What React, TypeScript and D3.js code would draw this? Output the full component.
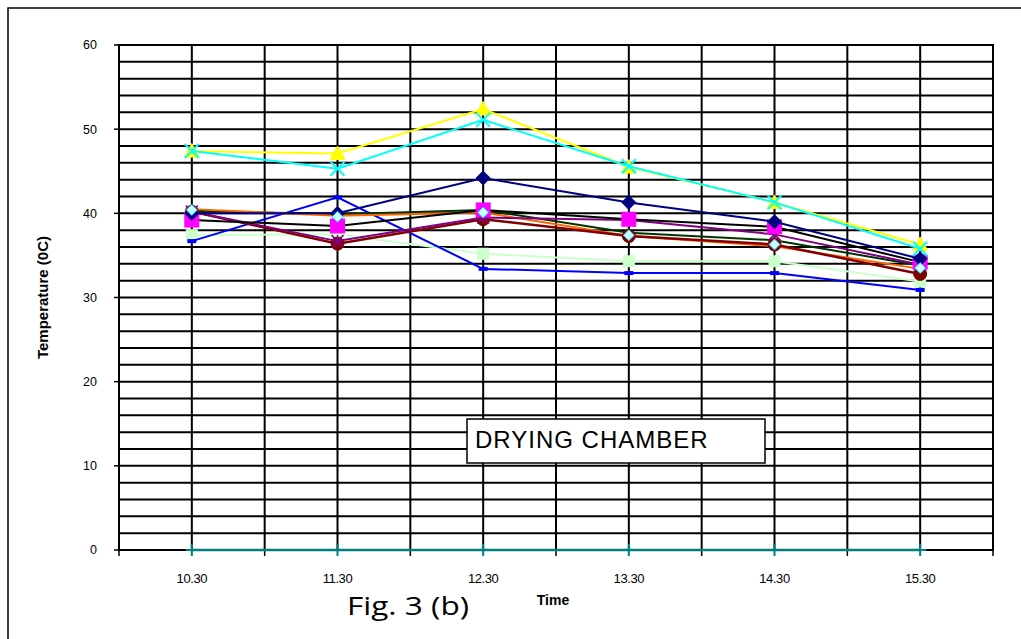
import React from "react";
import * as d3 from "d3";

const categories = ["10.30", "11.30", "12.30", "13.30", "14.30", "15.30"];
const yTicks = [0, 10, 20, 30, 40, 50, 60];

const navyDiamond = [40.0, 40.0, 44.2, 41.3, 39.0, 34.6];
const magentaSquare = [39.2, 38.5, 40.4, 39.3, 38.4, 34.2];
const yellowTriangle = [47.4, 47.1, 52.4, 45.5, 41.3, 36.3];
const cyanCross = [47.4, 45.3, 51.1, 45.6, 41.3, 35.8];
const purpleStar = [40.2, 36.7, 39.5, 39.2, 37.5, 33.9];
const maroonCircle = [40.2, 36.4, 39.3, 37.3, 36.3, 32.8];
const tealPlus = [0, 0, 0, 0, 0, 0];
const blueDash = [36.7, 41.9, 33.4, 32.9, 32.9, 30.9];
const lightDiamond = [40.4, 39.6, 40.1, 37.4, 36.3, 33.5];
const lightGreenSquare = [37.4, 37.5, 35.2, 34.3, 34.3, 31.9];
const orangeLine = [40.5, 39.7, 40.1, 37.3, 36.1, 33.4];
const darkGreenLine = [40.3, 39.9, 40.4, 37.7, 36.8, 33.8];

type Series = {
  values: number[];
  line: string;
  width: number;
  marker: string;
  fill: string;
  stroke: string;
  size: number;
};

const series: Series[] = [
  { values: tealPlus, line: "#008080", width: 2.5, marker: "plus", fill: "none", stroke: "#008080", size: 12 },
  { values: lightGreenSquare, line: "#CCFFCC", width: 2, marker: "square", fill: "#CCFFCC", stroke: "#CCFFCC", size: 11 },
  { values: blueDash, line: "#0000FF", width: 2, marker: "dash", fill: "#0000FF", stroke: "#0000FF", size: 9 },
  { values: darkGreenLine, line: "#003300", width: 2, marker: "none", fill: "none", stroke: "none", size: 0 },
  { values: orangeLine, line: "#FF6600", width: 2, marker: "none", fill: "none", stroke: "none", size: 0 },
  { values: maroonCircle, line: "#800000", width: 2.5, marker: "circle", fill: "#800000", stroke: "#800000", size: 13 },
  { values: purpleStar, line: "#800080", width: 2, marker: "star", fill: "none", stroke: "#800080", size: 12 },
  { values: magentaSquare, line: "#000000", width: 2, marker: "square", fill: "#FF00FF", stroke: "#FF00FF", size: 14 },
  { values: navyDiamond, line: "#000080", width: 2, marker: "diamond", fill: "#000080", stroke: "#000080", size: 14 },
  { values: lightDiamond, line: "#00CCFF", width: 0, marker: "diamond", fill: "#CCFFFF", stroke: "#00CCFF", size: 11 },
  { values: yellowTriangle, line: "#FFFF00", width: 2, marker: "triangle", fill: "#FFFF00", stroke: "#FFFF00", size: 15 },
  { values: cyanCross, line: "#00FFFF", width: 2, marker: "cross", fill: "none", stroke: "#00FFFF", size: 14 },
];

const W = 1021;
const H = 639;
const PL = 119;
const PR = 993;
const PT = 45;
const PB = 550;

function Marker({ type, x, y, s, fill, stroke }: { type: string; x: number; y: number; s: number; fill: string; stroke: string }) {
  const h = s / 2;
  switch (type) {
    case "square":
      return <rect x={x - h} y={y - h} width={s} height={s} fill={fill} stroke={stroke} strokeWidth={1} />;
    case "diamond":
      return <path d={`M${x},${y - h}L${x + h},${y}L${x},${y + h}L${x - h},${y}Z`} fill={fill} stroke={stroke} strokeWidth={1} />;
    case "triangle":
      return <path d={`M${x},${y - h}L${x + h},${y + h * 0.8}L${x - h},${y + h * 0.8}Z`} fill={fill} stroke={stroke} strokeWidth={1} />;
    case "circle":
      return <circle cx={x} cy={y} r={h} fill={fill} stroke={stroke} strokeWidth={1} />;
    case "cross":
      return <path d={`M${x - h},${y - h}L${x + h},${y + h}M${x - h},${y + h}L${x + h},${y - h}`} stroke={stroke} strokeWidth={2} fill="none" />;
    case "star":
      return (
        <path
          d={`M${x - h},${y - h}L${x + h},${y + h}M${x - h},${y + h}L${x + h},${y - h}M${x},${y - h}L${x},${y + h}`}
          stroke={stroke}
          strokeWidth={1.5}
          fill="none"
        />
      );
    case "plus":
      return <path d={`M${x - h},${y}L${x + h},${y}M${x},${y - h}L${x},${y + h}`} stroke={stroke} strokeWidth={2} fill="none" />;
    case "dash":
      return <rect x={x - h} y={y - 2} width={s} height={4} fill={fill} />;
    default:
      return null;
  }
}

export default function App() {
  const x = d3.scaleBand<string>().domain(categories).range([PL, PR]).padding(0);
  const y = d3.scaleLinear().domain([0, 60]).range([PB, PT]);
  const cx = (c: string) => (x(c) as number) + x.bandwidth() / 2;
  const gridY = d3.range(0, 61, 2);
  const bounds = categories.map((c) => x(c) as number).concat([PR]);
  const centers = categories.map(cx);
  const line = d3
    .line<number>()
    .x((_, i) => cx(categories[i]))
    .y((v) => y(v));

  const font = "Liberation Sans, Arial, sans-serif";

  return (
    <svg width={W} height={H} style={{ position: "absolute", left: 0, top: 0, background: "#fff" }}>
      <rect x={0} y={0} width={W} height={H} fill="#fff" />
      <rect x={8} y={8} width={W + 20} height={H + 20} fill="none" stroke="#000" strokeWidth={1.5} />

      {gridY.map((v) => (
        <line key={"h" + v} x1={PL} x2={PR} y1={y(v)} y2={y(v)} stroke="#000" strokeWidth={2} />
      ))}
      {bounds.map((b, i) => (
        <line key={"vb" + i} x1={b} x2={b} y1={PT} y2={PB} stroke="#000" strokeWidth={2} />
      ))}
      {centers.map((c, i) => (
        <line key={"vc" + i} x1={c} x2={c} y1={PT} y2={PB} stroke="#000" strokeWidth={2} />
      ))}
      <rect x={PL} y={PT} width={PR - PL} height={PB - PT} fill="none" stroke="#000" strokeWidth={2} />

      {yTicks.map((v) => (
        <g key={"yt" + v}>
          <line x1={PL - 5} x2={PL} y1={y(v)} y2={y(v)} stroke="#000" strokeWidth={1.5} />
          <text x={97} y={y(v)} dy="0.35em" textAnchor="end" fontFamily={font} fontSize={12.5} fill="#000">
            {v}
          </text>
        </g>
      ))}
      {bounds.map((b, i) => (
        <line key={"xt" + i} x1={b} x2={b} y1={PB} y2={PB + 6} stroke="#000" strokeWidth={1.5} />
      ))}
      {categories.map((c) => (
        <text key={"xl" + c} x={cx(c)} y={583} textAnchor="middle" fontFamily={font} fontSize={13} letterSpacing={-0.4} fill="#000">
          {c}
        </text>
      ))}

      {series.map((s, i) => (
        <g key={"s" + i}>
          {s.width > 0 && <path d={line(s.values) || ""} fill="none" stroke={s.line} strokeWidth={s.width} />}
          {s.values.map((v, j) => (
            <Marker key={j} type={s.marker} x={cx(categories[j])} y={y(v)} s={s.size} fill={s.fill} stroke={s.stroke} />
          ))}
        </g>
      ))}

      <rect x={467} y={419} width={298} height={44} fill="#fff" stroke="#000" strokeWidth={1.5} />
      <text x={475} y={448} fontFamily={font} fontSize={24} letterSpacing={1} fill="#000">
        DRYING CHAMBER
      </text>

      <text x={553} y={605} textAnchor="middle" fontFamily={font} fontSize={14} fontWeight="bold" fill="#000">
        Time
      </text>
      <text
        transform={`translate(48,${(PT + PB) / 2}) rotate(-90)`}
        textAnchor="middle"
        fontFamily={font}
        fontSize={15}
        fontWeight="bold"
        fill="#000"
      >
        Temperature (0C)
      </text>
      <text
        x={347}
        y={615}
        fontFamily="Open Sans, sans-serif"
        fontSize={25}
        textLength={122}
        lengthAdjust="spacingAndGlyphs"
        fill="#000"
      >
        Fig. 3 (b)
      </text>
    </svg>
  );
}
